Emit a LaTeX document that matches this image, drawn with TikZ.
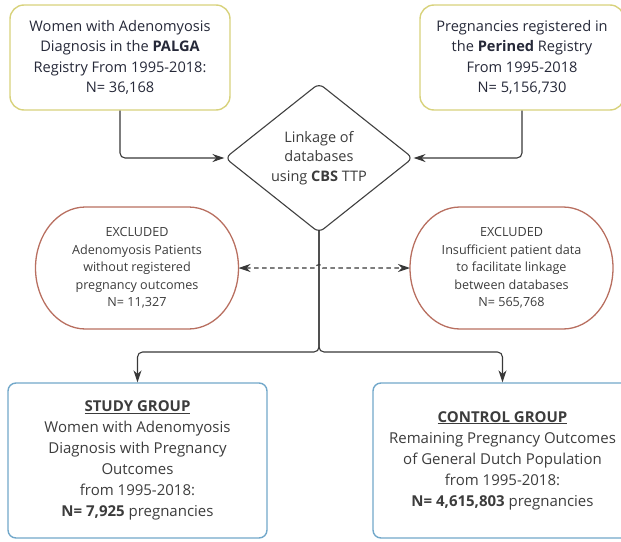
\documentclass[tikz,border=0pt]{standalone}
\usepackage{fontspec}
\setmainfont{Open Sans}
\usetikzlibrary{shapes.geometric,arrows.meta,calc}

\definecolor{regline}{HTML}{D8D27C}
\definecolor{exline}{HTML}{B86F60}
\definecolor{grpline}{HTML}{72A8CA}
\definecolor{navytext}{HTML}{262939}
\definecolor{greytext}{HTML}{3C3C3C}

\begin{document}
\begin{tikzpicture}[
    x=1pt, y=1pt,
    source/.style={draw=regline, line width=1.4pt, rounded corners=14pt, fill=white, text=navytext, align=center, font=\fontsize{14.6}{20.5}\selectfont, minimum height=105pt},
    excl/.style={outer sep=0pt, align=center, text=greytext, font=\fontsize{12.6}{17.5}\selectfont, minimum width=203pt, minimum height=122pt},
    exedge/.style={draw=exline, line width=1.3pt},
    group/.style={draw=grpline, line width=1.4pt, rounded corners=8pt, align=center, text=greytext, font=\fontsize{15}{21}\selectfont, minimum width=259pt, minimum height=155pt},
    linkbox/.style={diamond, draw=black!75, line width=1.1pt, rounded corners=6pt, fill=white, align=center, text=greytext, inner sep=0pt, minimum width=188pt, minimum height=120pt, font=\fontsize{14.5}{19.5}\selectfont},
    arr/.style={-{Stealth[length=12pt,width=8pt]}, line width=1.1pt, draw=black!78, rounded corners=5pt},
    dasharr/.style={{Stealth[length=12pt,width=8pt]}-{Stealth[length=12pt,width=8pt]}, line width=1.1pt, draw=black!78, dash pattern=on 4.5pt off 3.5pt}
]
    \useasboundingbox (0,0) rectangle (621,-541);
    \clip (0,0) rectangle (621,-541);

    % Registries
    \node[source, minimum width=220pt] (palga) at (120,-57.5) {Women with Adenomyosis\\Diagnosis in the \textbf{PALGA}\\Registry From 1995-2018:\\N= 36,168};
    \node[source, minimum width=204pt] (perined) at (522,-57.5) {Pregnancies registered in\\the \textbf{Perined} Registry\\From 1995-2018\\N= 5,156,730};

    % Linkage
    \node[linkbox] (cbs) at (319,-158) {Linkage of\\databases\\using \textbf{CBS} TTP};

    \draw[arr] (palga.south) |- (cbs.west);
    \draw[arr] (perined.south) |- (cbs.east);

    % Exclusions (outline drawn with elliptic ends)
    \node[excl] (exA) at (137,-268) {EXCLUDED\\Adenomyosis Patients\\without registered\\pregnancy outcomes\\N= 11,327};
    \node[excl] (exB) at (511.5,-268) {EXCLUDED\\Insufficient patient data\\to facilitate linkage\\between databases\\N= 565,768};
    \foreach \n in {exA,exB}
        \draw[exedge] ($(\n.north west)+(50,0)$) -- ($(\n.north east)+(-50,0)$)
            arc[start angle=90, end angle=-90, x radius=50pt, y radius=61pt]
            -- ($(\n.south west)+(50,0)$)
            arc[start angle=270, end angle=90, x radius=50pt, y radius=61pt] -- cycle;

    % Groups
    \node[group] (study) at (137.5,-460.5) {\underline{\textbf{STUDY GROUP}}\\Women with Adenomyosis\\Diagnosis with Pregnancy\\Outcomes\\from 1995-2018:\\\textbf{N= 7,925} pregnancies};
    \node[group] (control) at (502.5,-460.5) {\underline{\textbf{CONTROL GROUP}}\\Remaining Pregnancy Outcomes\\of General Dutch Population\\from 1995-2018:\\\textbf{N= 4,615,803} pregnancies};

    \coordinate (split) at (319,-352);
    \draw[arr, shorten <=-3pt] (cbs.south) -- (split) -| (study.north);
    \draw[arr, shorten <=-3pt] (cbs.south) -- (split) -| (control.north);

    % dashed link hopping over the trunk
    \coordinate (hop) at (319,-268);
    \draw[dasharr] (exA.east) -- ($(hop)+(-3.5,0)$) arc[start angle=180, end angle=0, radius=3.5pt] -- (exB.west);
\end{tikzpicture}
\end{document}
